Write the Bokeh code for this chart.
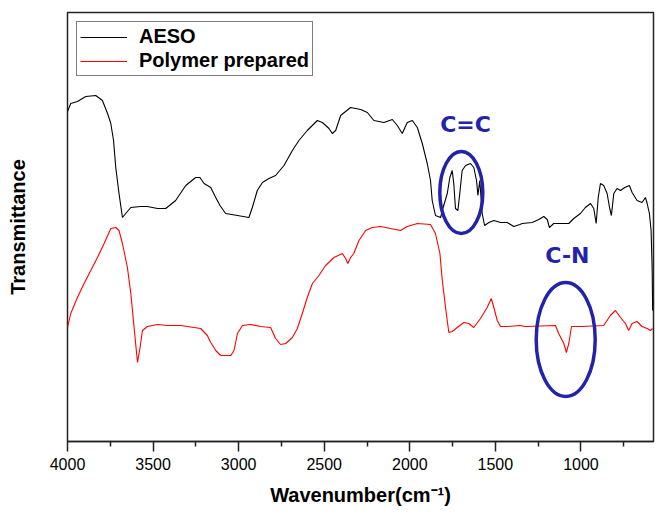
from bokeh.plotting import figure
from bokeh.models import Range1d, FixedTicker, Legend, LegendItem, Label
from bokeh.embed import file_html
from bokeh.resources import INLINE

# ---------------- data ----------------
aeso_wn = [4000, 3981, 3942, 3893, 3835, 3796, 3766, 3747, 3731, 3718, 3699, 3679, 3660, 3630,
           3572, 3533, 3474, 3426, 3368, 3309, 3251, 3226, 3202, 3163, 3134, 3109, 3076, 3007,
           2940, 2920, 2891, 2861, 2823, 2784, 2735, 2686, 2648, 2599, 2540, 2511, 2472, 2453,
           2433, 2404, 2346, 2287, 2248, 2210, 2151, 2102, 2073, 2044, 2015, 1985, 1956, 1927,
           1898, 1879, 1869, 1850, 1820, 1805, 1781, 1766, 1752, 1743, 1733, 1719, 1708, 1694,
           1674, 1645, 1626, 1610, 1602, 1591, 1577, 1563, 1538, 1509, 1470, 1431, 1392, 1357,
           1343, 1285, 1246, 1217, 1197, 1184, 1159, 1110, 1071, 1042, 1003, 974, 944, 925, 911,
           899, 886, 867, 847, 833, 822, 808, 789, 769, 744, 717, 701, 672, 643, 623, 613, 600,
           590, 584, 581]
aeso_t = [330, 338, 340, 345, 346, 341, 328, 318, 301, 274, 248, 224, 228, 234,
          235, 235, 233, 233, 241, 256, 264, 264, 258, 254, 244, 236, 228, 226,
          224, 234, 251, 259, 263, 266, 276, 291, 301, 311, 321, 319, 313, 308,
          311, 326, 334, 332, 329, 321, 319, 322, 316, 308, 319, 321, 314, 298,
          278, 261, 241, 226, 224, 234, 248, 264, 271, 258, 233, 231, 248, 271,
          276, 278, 274, 261, 246, 261, 228, 216, 219, 221, 219, 219, 215, 217,
          218, 219, 222, 225, 222, 214, 218, 218, 218, 223, 228, 234, 238, 233, 218,
          244, 258, 256, 248, 234, 226, 248, 253, 251, 254, 256, 249, 241, 239, 244, 238, 228,
          211, 174, 131]

poly_wn = [4000, 3981, 3942, 3903, 3864, 3825, 3786, 3747, 3718, 3699, 3679, 3650, 3630, 3611,
           3591, 3576, 3562, 3533, 3474, 3416, 3338, 3261, 3222, 3183, 3163, 3144, 3134, 3105,
           3046, 3027, 3007, 2978, 2930, 2871, 2813, 2784, 2755, 2725, 2686, 2657, 2628, 2599,
           2569, 2531, 2492, 2443, 2394, 2375, 2362, 2346, 2327, 2297, 2258, 2219, 2171, 2112,
           2054, 2015, 1956, 1879, 1850, 1824, 1810, 1791, 1772, 1752, 1723, 1684, 1655, 1626,
           1587, 1548, 1524, 1509, 1489, 1470, 1431, 1357, 1324, 1149, 1130, 1100, 1085, 1071,
           1055, 993, 867, 828, 798, 769, 740, 721, 701, 672, 643, 613, 594, 581]
poly_t = [114, 128, 144, 158, 171, 184, 198, 213, 214, 211, 198, 174, 148, 114,
          79, 94, 111, 115, 117, 116, 116, 114, 113, 106, 99, 94, 91, 86,
          86, 91, 108, 116, 117, 115, 114, 103, 97, 98, 104, 113, 128, 144,
          158, 166, 176, 184, 188, 183, 178, 184, 188, 201, 211, 214, 215, 213,
          211, 215, 218, 217, 208, 188, 161, 134, 109, 110, 114, 119, 118, 114,
          123, 134, 143, 134, 121, 115, 115, 116, 115, 116, 108, 98, 89, 98,
          115, 115, 116, 126, 131, 124, 118, 111, 118, 120, 115, 113, 111, 113]

series_names = ["AESO", "Polymer prepared"]
x_ticks = [4000, 3500, 3000, 2500, 2000, 1500, 1000]
x_minor = [3750, 3250, 2750, 2250, 1750, 1250, 750]

ann_text = ["C=C", "C-N"]
ann_text_wn = [1674, 1079]
ann_text_t = [317, 186]
ell_wn = [1699, 1089]
ell_t = [249, 102]
ell_w_px = [43, 59]
ell_h_px = [82, 114]

# ---------------- figure ----------------
BLUE = "#2222aa"
FRAME = "#222222"

p = figure(width=660, height=517,
           x_range=Range1d(4000, 576), y_range=Range1d(0, 429),
           output_backend="svg", toolbar_location=None,
           min_border_left=67, min_border_right=7, min_border_top=12, min_border_bottom=76)

p.xgrid.visible = False
p.ygrid.visible = False
p.background_fill_color = "white"
p.border_fill_color = "white"
p.outline_line_color = FRAME
p.outline_line_width = 1.5

r1 = p.line(aeso_wn, aeso_t, line_color="black", line_width=1.1)
r2 = p.line(poly_wn, poly_t, line_color="#ff0000", line_width=1.1)

# annotations
p.ellipse(x=ell_wn, y=ell_t, width=ell_w_px, height=ell_h_px,
          width_units="screen", height_units="screen",
          fill_alpha=0, line_color=BLUE, line_width=3.5)
for t, xv, yv in zip(ann_text, ann_text_wn, ann_text_t):
    p.add_layout(Label(x=xv, y=yv, text=t, text_align="center", text_baseline="middle",
                       text_color=BLUE, text_font="DejaVu Sans", text_font_style="bold",
                       text_font_size="22px"))

# x axis
xa = p.xaxis[0]
xa.ticker = FixedTicker(ticks=x_ticks, minor_ticks=x_minor)
xa.axis_line_color = FRAME
xa.axis_line_width = 1.5
xa.major_tick_line_color = FRAME
xa.major_tick_line_width = 1.5
xa.major_tick_out = 10
xa.major_tick_in = 0
xa.minor_tick_line_color = FRAME
xa.minor_tick_line_width = 1.5
xa.minor_tick_out = 5
xa.minor_tick_in = 0
xa.major_label_text_font = "Liberation Sans"
xa.major_label_text_font_size = "16px"
xa.major_label_text_color = "black"
xa.major_label_standoff = 6
xa.axis_label = "Wavenumber(cm\u207b\u00b9)"
xa.axis_label_text_font = "Liberation Sans"
xa.axis_label_text_font_style = "bold"
xa.axis_label_text_font_size = "20px"
xa.axis_label_text_color = "black"
xa.axis_label_standoff = 11

# y axis: only the title
ya = p.yaxis[0]
ya.ticker = FixedTicker(ticks=[])
ya.axis_line_color = None
ya.major_tick_line_color = None
ya.minor_tick_line_color = None
ya.major_tick_out = 0
ya.major_label_text_font_size = "0px"
ya.axis_label = "Transmittance"
ya.axis_label_text_font = "Liberation Sans"
ya.axis_label_text_font_style = "bold"
ya.axis_label_text_font_size = "20px"
ya.axis_label_text_color = "black"
ya.axis_label_standoff = 39

legend = Legend(items=[LegendItem(label=series_names[0], renderers=[r1]),
                       LegendItem(label=series_names[1], renderers=[r2])],
                location="top_left", margin=9, padding=3, spacing=1,
                glyph_width=47, glyph_height=20, label_height=20, label_standoff=12,
                label_text_font="Liberation Sans", label_text_font_style="bold",
                label_text_font_size="20px", label_text_color="black",
                border_line_color="black", border_line_width=1.5,
                background_fill_color="white", background_fill_alpha=1.0)
p.add_layout(legend)

open("out.html", "w").write(file_html(p, INLINE))
